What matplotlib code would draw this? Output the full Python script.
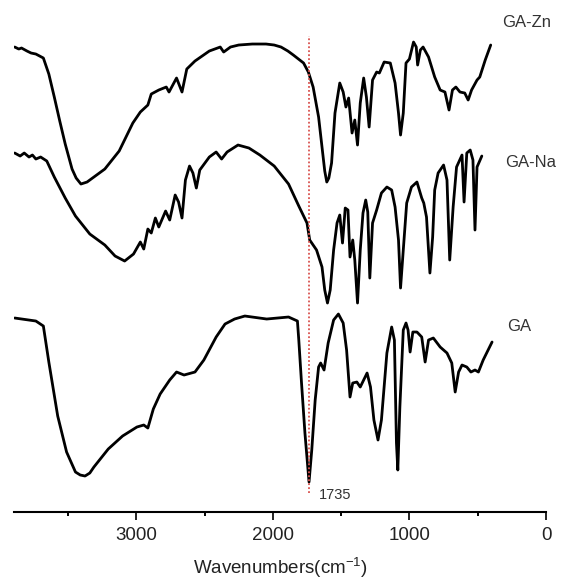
import numpy as np
import matplotlib
matplotlib.use("Agg")
import matplotlib.pyplot as plt

plt.rcParams['font.family'] = ['Liberation Sans', 'DejaVu Sans']

# FTIR spectra, transmittance in arbitrary units (curves stacked)
wn_zn = [3890, 3860, 3840, 3800, 3770, 3735, 3680, 3640, 3600, 3560, 3520, 3470, 3440, 3405, 3360,
         3310, 3230, 3125, 3025,
         2970, 2915, 2890, 2835, 2780, 2760, 2705, 2665, 2630, 2570, 2465, 2385, 2360, 2310,
         2250, 2150, 2050, 1990, 1940, 1890, 1850, 1775, 1740, 1705, 1665, 1640, 1620, 1605,
         1590, 1570, 1545, 1510, 1485,
         1465, 1445, 1420, 1400, 1380, 1360, 1335, 1315, 1295, 1270, 1240, 1220, 1185, 1140,
         1105, 1080, 1065, 1045, 1025, 1000, 970, 950, 940, 920, 900, 860, 815, 775, 740,
         710, 685, 660, 630, 595, 570, 545, 505, 485, 445, 405]
t_zn = [467, 465, 466, 463, 461, 460, 456, 440, 417, 393, 370, 345, 336, 330, 332,
        337, 345, 363, 391,
        402, 409, 420, 424, 427, 422, 436, 422, 445, 453, 463, 467, 462, 467,
        469, 470, 470, 469, 467, 463, 459, 451, 442, 427, 397, 367, 343, 332,
        336, 351, 401, 431, 422,
        407, 416, 381, 394, 369, 411, 436, 417, 387, 434, 442, 441, 452, 451,
        431, 401, 379, 401, 451, 455, 472, 467, 449, 464, 467, 457, 437, 424, 422,
        404, 424, 427, 422, 421, 414, 424, 434, 437, 454, 469]

wn_na = [3890, 3850, 3820, 3785, 3760, 3735, 3700, 3655, 3600, 3520, 3445, 3340, 3230, 3155, 3085,
         3020, 2970, 2945, 2915, 2890, 2860, 2835, 2785, 2755, 2715, 2690, 2665, 2640, 2610,
         2585, 2560, 2535, 2465, 2415, 2375, 2335, 2255, 2175, 2095, 1990, 1885, 1810, 1750,
         1730, 1680, 1640, 1620, 1600, 1580, 1555, 1530, 1510, 1490, 1470, 1450, 1435, 1415,
         1400, 1380, 1360, 1340, 1320, 1305, 1290, 1270, 1240, 1205, 1165, 1130, 1105, 1080,
         1065, 1045, 1020, 985, 945, 910, 895, 875, 850, 830, 815, 790, 750, 725, 705, 680,
         655, 615, 600, 580, 555, 535, 520, 505, 470]
t_na = [361, 358, 361, 357, 359, 355, 357, 353, 337, 316, 298, 280, 269, 258, 253,
        260, 272, 265, 285, 281, 296, 287, 303, 294, 319, 312, 296, 334, 348,
        341, 326, 344, 357, 362, 355, 362, 369, 366, 359, 348, 330, 308, 291,
        274, 264, 247, 224, 211, 224, 264, 291, 299, 271, 306, 304, 257, 274,
        254, 211, 264, 301, 314, 302, 236, 291, 304, 321, 327, 324, 307, 274,
        226, 264, 311, 327, 332, 316, 311, 297, 241, 277, 324, 341, 349, 334, 254, 307,
        347, 359, 312, 361, 364, 354, 284, 347, 358]

wn_ga = [3890, 3735, 3680, 3640, 3575, 3510, 3445, 3410, 3375, 3340, 3310, 3205, 3100, 2995, 2945, 2915,
         2875, 2825, 2755, 2705, 2650, 2570, 2505, 2415, 2350, 2280, 2205, 2045, 1885, 1820, 1810,
         1790, 1765, 1735, 1715, 1690, 1665, 1650, 1625, 1595, 1555, 1520, 1485, 1460, 1435,
         1415, 1385, 1360, 1335, 1310, 1285, 1260, 1230, 1205, 1165, 1130, 1110, 1095, 1085,
         1070, 1045, 1025, 1010, 995, 975, 945, 910, 885, 860, 825, 775, 725, 690, 665, 640,
         615, 580, 550, 520, 495, 460, 395]
t_ga = [196, 193, 188, 152, 98, 62, 42, 39, 38, 41, 47, 65, 78, 87, 89, 86,
        105, 120, 134, 142, 139, 142, 154, 177, 190, 195, 198, 195, 197, 193, 174,
        131, 81, 32, 64, 114, 147, 151, 144, 171, 194, 200, 191, 164, 117,
        131, 132, 127, 134, 141, 127, 94, 74, 94, 161, 187, 174, 71, 44,
        107, 184, 191, 184, 162, 182, 182, 177, 152, 174, 176, 167, 161, 151, 122, 142,
        149, 147, 142, 144, 142, 154, 172]

names = ["GA-Zn", "GA-Na", "GA"]
label_x = [322, 300, 285]
label_y = [492, 352, 188]
peak = 1735

fig = plt.figure(figsize=(5.65, 5.81), dpi=100)
ax = fig.add_axes([0.0255, 0.1196, 0.9409, 0.8511])

for wn, t in [(wn_zn, t_zn), (wn_na, t_na), (wn_ga, t_ga)]:
    ax.plot(wn, t, color="black", lw=2.0, solid_joinstyle="round", solid_capstyle="round")

ax.plot([peak, peak], [21, 478], color="#d9534f", lw=1.3, ls=(0, (1, 1.2)))
ax.text(1662, 19, str(peak), fontsize=10.5, color="#333333", va="center", ha="left")

for n, x, y in zip(names, label_x, label_y):
    ax.text(x, y, n, fontsize=12, color="#333333", va="center", ha="left")

ax.set_xlim(3892, 0)
ax.set_ylim(2.5, 497)
ax.set_xticks([3000, 2000, 1000, 0])
ax.set_xticks([3500, 2500, 1500, 500], minor=True)
ax.set_yticks([])
for s in ["left", "right", "top"]:
    ax.spines[s].set_visible(False)
ax.spines["bottom"].set_linewidth(1.5)
ax.tick_params(axis="x", which="major", direction="out", length=5.5, width=1.4,
               labelsize=13.5, pad=6, colors="#222222")
ax.tick_params(axis="x", which="minor", direction="out", length=3, width=1.4)
ax.set_xlabel("Wavenumbers(cm$^{\\mathregular{-1}}$)", fontsize=13.5, color="#222222", labelpad=8)

fig.savefig("out.png", dpi=100)
